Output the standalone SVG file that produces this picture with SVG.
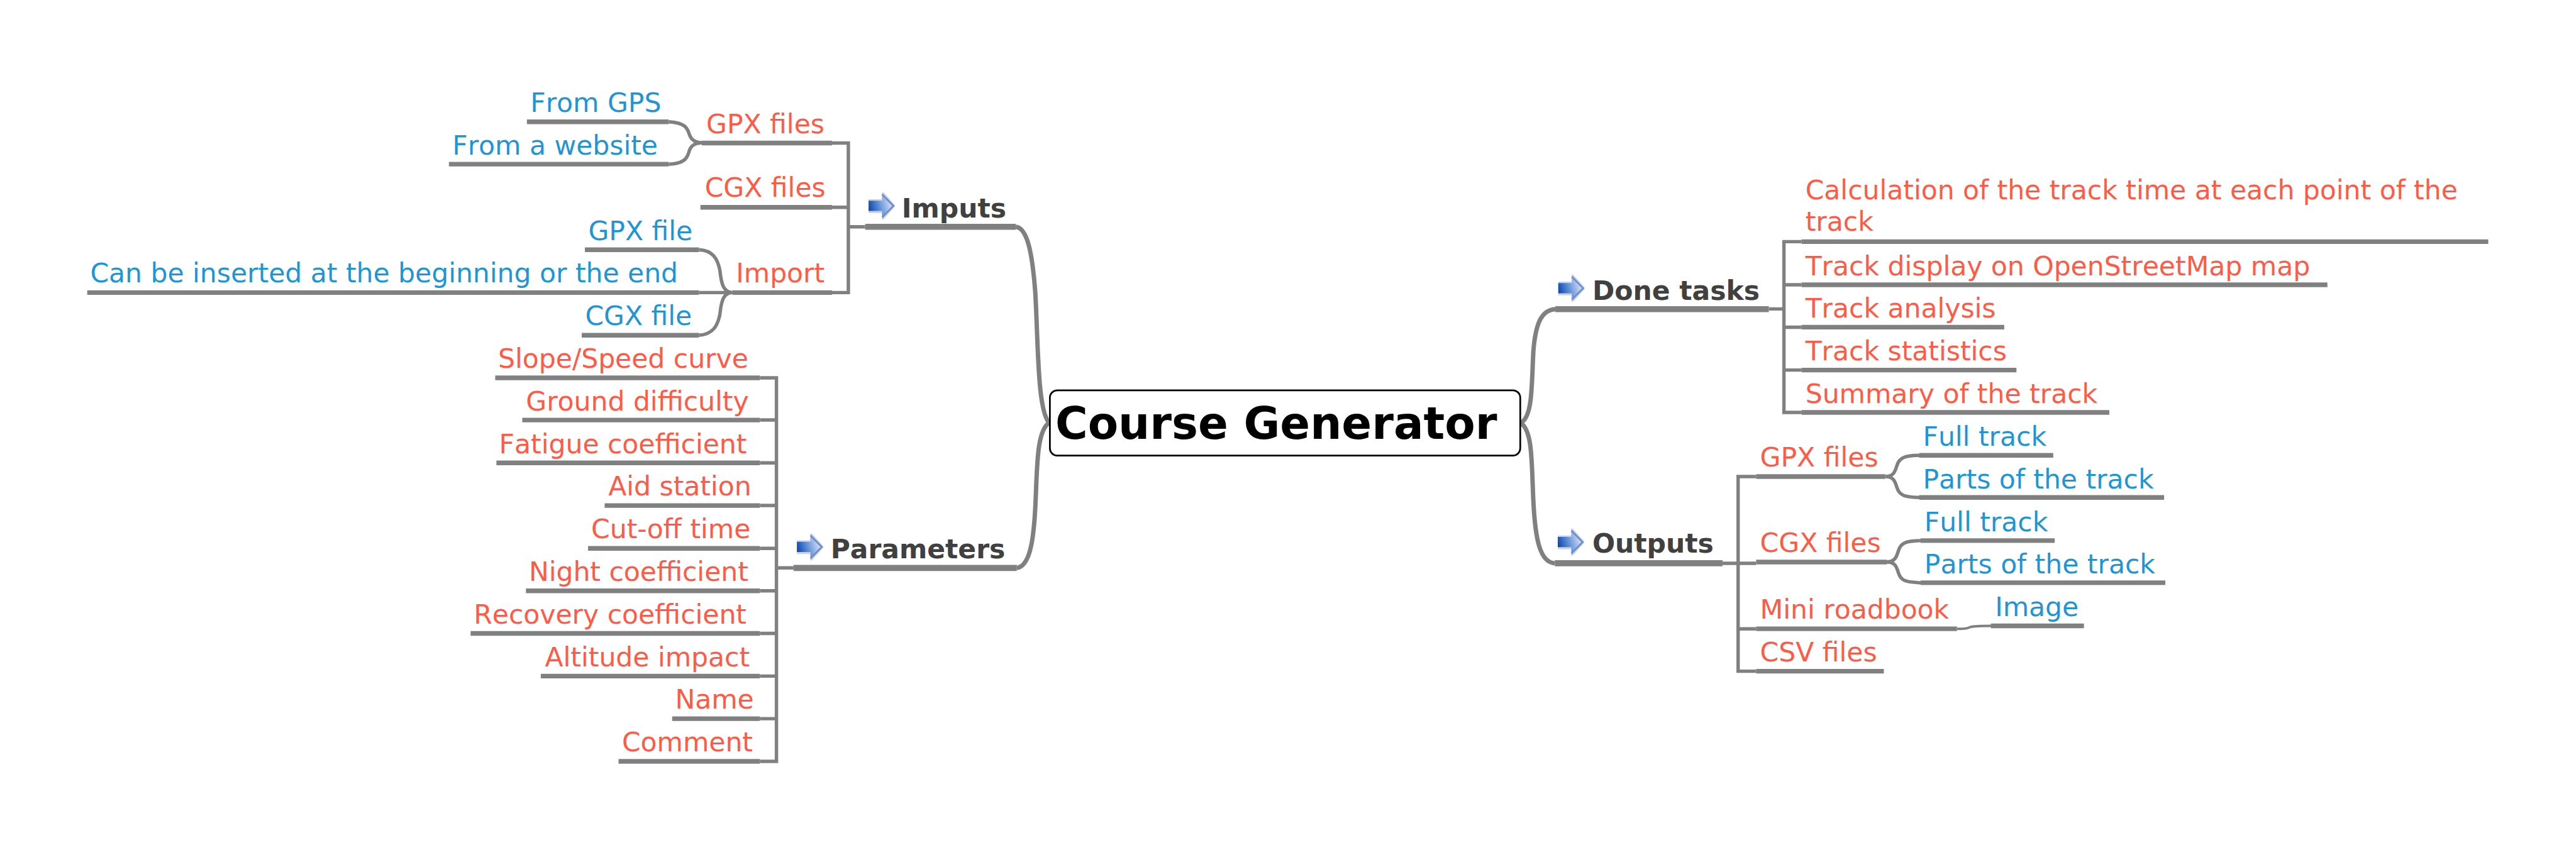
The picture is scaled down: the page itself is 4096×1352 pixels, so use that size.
<svg xmlns="http://www.w3.org/2000/svg" xmlns:xlink="http://www.w3.org/1999/xlink" width="4096" height="1352" viewBox="0 0 4096 1352">
<style>
text{font-family:"DejaVu Sans",sans-serif;font-size:54.800px;font-kerning:none}
.r{fill:#ff5a45}
.b{fill:#1f95d6}
.t{fill:#404040;font-weight:bold;font-size:54.800px}
.root{fill:#000;font-weight:bold;font-size:91px}
.u{stroke:#808080;stroke-width:9.500;fill:none}
.ub{stroke:#808080;stroke-width:12.500;fill:none}
.c{stroke:#808080;stroke-width:7;fill:none}
.cb{stroke:#808080;stroke-width:9;fill:none}
</style>
<defs>
<linearGradient id="ag" x1="0" y1="0.65" x2="1" y2="0.4">
<stop offset="0" stop-color="#0a45ad"/>
<stop offset="0.5" stop-color="#6f9bdc"/>
<stop offset="1" stop-color="#e2ebf8"/>
</linearGradient>
<g id="arrow">
<path d="M0 14H27V0H31L54 26V29L31 55H27V42H0Z" fill="#c6d0e6"/>
<path d="M0 17H28V4L51 27.500L28 51V38H0Z" fill="url(#ag)"/>
<path d="M28 4L51 27.500L28 51" fill="none" stroke="#6f8cc8" stroke-width="3.500"/>
</g>
</defs>
<rect width="4096" height="1352" fill="#fff"/>
<g transform="scale(0.77502)">
<g id="connectors">
<path class="cb" d="M2084 465.500C2108 468 2118 520 2124 600C2130 700 2128 840 2152 867"/>
<path class="cb" d="M2086 1165.500C2115 1162 2122 1100 2125 1020C2128 950 2128 885 2152 868"/>
<path class="cb" d="M3191 634.500C3160 636 3150 670 3146 720C3142 790 3145 855 3120 868"/>
<path class="cb" d="M3190 1156C3160 1154 3150 1110 3146 1030C3142 950 3145 885 3120 868"/>
<path class="c" d="M1707 293.500H1740.500V600.500H1707M1707 425.500H1740.500M1740.500 465.500H1775"/>
<path class="c" d="M1559 775.500H1593V1562.500H1559M1559 862H1593M1559 950H1593M1559 1037.500H1593M1559 1125.500H1593M1559 1212.500H1593M1559 1300H1593M1559 1387.500H1593M1559 1475H1593M1593 1165.500H1628"/>
<path class="c" d="M3629 634H3660M3696 496H3660V846.500H3696M3660 584.500H3696M3660 671.500H3696M3660 759.500H3696"/>
<path class="c" d="M3534 1156H3603M3603 978H3566V1377.500H3603M3566 1290.500H3603"/>
<path class="c" d="M1372 250C1405 252 1410 262 1414 275C1418 287 1425 292 1440 293M1372 337C1405 335 1410 325 1414 310C1418 298 1425 294 1440 293"/>
<path class="c" d="M1434 512.500C1462 514 1472 530 1477 555C1480 585 1485 600 1503 600.500M1434 688C1462 686 1472 670 1477 645C1480 615 1485 601 1503 600.500M1434 600.500H1503"/>
<path class="c" d="M3868 978C3885 978 3888 968 3892 955C3897 938 3910 935 3938 934.500M3868 978C3885 978 3888 988 3892 1001C3897 1018 3910 1020 3938 1021"/>
<path class="c" d="M3871 1153.500C3888 1153 3891 1143 3895 1130C3900 1113 3913 1110 3941 1109.500M3871 1153.500C3888 1153 3891 1163 3895 1176C3900 1193 3913 1195 3941 1196"/>
<path class="c" style="stroke-width:5" d="M4015 1290.500C4030 1291 4036 1290 4042 1287C4050 1285 4060 1284.500 4085 1284.500"/>
</g>
<g id="root"><rect x="2154" y="801" width="965" height="134" rx="15" fill="#fff" stroke="#000" stroke-width="3.500"/><text class="root" x="2165" y="901">Course Generator</text></g>
<g id="imputs"><use href="#arrow" x="1782" y="395"/><text class="t" x="1850" y="446">Imputs</text><path class="ub" d="M1775 465.500H2084"/></g>
<g id="parameters"><use href="#arrow" x="1635" y="1095"/><text class="t" x="1704" y="1146">Parameters</text><path class="ub" d="M1628 1165.500H2086"/></g>
<g id="done-tasks"><use href="#arrow" x="3197" y="564"/><text class="t" x="3267" y="615">Done tasks</text><path class="ub" d="M3191 634.500H3629"/></g>
<g id="outputs"><use href="#arrow" x="3196" y="1085"/><text class="t" x="3267" y="1134.500">Outputs</text><path class="ub" d="M3190 1156H3534"/></g>
<g id="gpx-files"><text class="r" x="1449" y="273">GPX files</text><path class="u" d="M1440 293.500H1707"/></g>
<g id="cgx-files"><text class="r" x="1446" y="404">CGX files</text><path class="u" d="M1437 425.500H1707"/></g>
<g id="import"><text class="r" x="1510" y="579">Import</text><path class="u" d="M1503 600.500H1707"/></g>
<g id="from-gps"><text class="b" x="1088" y="230">From GPS</text><path class="u" d="M1081 250H1372"/></g>
<g id="from-website"><text class="b" x="928" y="318">From a website</text><path class="u" d="M921 337H1372"/></g>
<g id="gpx-file"><text class="b" x="1207" y="493">GPX file</text><path class="u" d="M1200 512.500H1434"/></g>
<g id="can-be"><text class="b" x="185" y="579.500">Can be inserted at the beginning or the end</text><path class="u" d="M179 600.500H1434"/></g>
<g id="cgx-file"><text class="b" x="1200.500" y="667.500">CGX file</text><path class="u" d="M1193.500 688H1434"/></g>
<g id="slope"><text class="r" x="1022" y="755">Slope/Speed curve</text><path class="u" d="M1016 775.500H1559"/></g>
<g id="ground"><text class="r" x="1079" y="842.500">Ground difficulty</text><path class="u" d="M1071.500 862H1559"/></g>
<g id="fatigue"><text class="r" x="1024" y="930.500">Fatigue coefficient</text><path class="u" d="M1018.500 950H1559"/></g>
<g id="aid"><text class="r" x="1248" y="1017">Aid station</text><path class="u" d="M1240.500 1037.500H1559"/></g>
<g id="cutoff"><text class="r" x="1213" y="1104.500">Cut-off time</text><path class="u" d="M1206.500 1125.500H1559"/></g>
<g id="night"><text class="r" x="1085" y="1192">Night coefficient</text><path class="u" d="M1079 1212.500H1559"/></g>
<g id="recovery"><text class="r" x="972" y="1280">Recovery coefficient</text><path class="u" d="M965.500 1300H1559"/></g>
<g id="altitude"><text class="r" x="1118" y="1367.500">Altitude impact</text><path class="u" d="M1109.500 1387.500H1559"/></g>
<g id="name"><text class="r" x="1385" y="1454.500">Name</text><path class="u" d="M1379 1475H1559"/></g>
<g id="comment"><text class="r" x="1276" y="1542.500">Comment</text><path class="u" d="M1269 1562.500H1559"/></g>
<g id="calc"><text class="r" x="3704" y="408.500">Calculation of the track time at each point of the</text><text class="r" x="3704" y="473">track</text><path class="u" d="M3696 496H5105"/></g>
<g id="display"><text class="r" x="3704" y="565">Track display on OpenStreetMap map</text><path class="u" d="M3696 584.500H4775"/></g>
<g id="analysis"><text class="r" x="3704" y="652">Track analysis</text><path class="u" d="M3696 671.500H4112"/></g>
<g id="statistics"><text class="r" x="3704" y="739.500">Track statistics</text><path class="u" d="M3696 759.500H4137"/></g>
<g id="summary"><text class="r" x="3704" y="826.500">Summary of the track</text><path class="u" d="M3696 846.500H4327.500"/></g>
<g id="o-gpx"><text class="r" x="3611" y="958">GPX files</text><path class="u" d="M3603 978H3868"/></g>
<g id="o-cgx"><text class="r" x="3611" y="1133">CGX files</text><path class="u" d="M3603 1153.500H3871.500"/></g>
<g id="mini"><text class="r" x="3611" y="1270">Mini roadbook</text><path class="u" d="M3603 1290.500H4015"/></g>
<g id="csv"><text class="r" x="3611" y="1358">CSV files</text><path class="u" d="M3603 1377.500H3865"/></g>
<g id="full1"><text class="b" x="3945" y="915">Full track</text><path class="u" d="M3937.500 934.500H4212.500"/></g>
<g id="parts1"><text class="b" x="3945" y="1002">Parts of the track</text><path class="u" d="M3937.500 1021H4440"/></g>
<g id="full2"><text class="b" x="3948" y="1090">Full track</text><path class="u" d="M3940.500 1109.500H4215.500"/></g>
<g id="parts2"><text class="b" x="3948" y="1176.500">Parts of the track</text><path class="u" d="M3940.500 1196H4442.500"/></g>
<g id="image"><text class="b" x="4093" y="1265">Image</text><path class="u" d="M4084.500 1284.500H4275.500"/></g>
</g>
</svg>
